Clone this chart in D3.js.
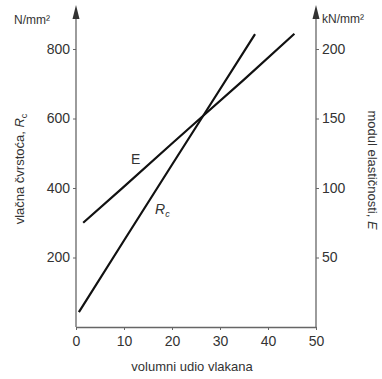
<!DOCTYPE html>
<html>
<head>
<meta charset="utf-8">
<script src="https://cdn.jsdelivr.net/npm/d3@7"></script>
<style>
  body { margin: 0; background: #fff; }
  svg text { font-family: "Liberation Sans", Arial, sans-serif; fill: #333; }
</style>
</head>
<body>
<div id="chart"></div>
<script>
// volume fraction of fibres (%) vs. tensile strength R_c (N/mm²) and modulus E (kN/mm²)
const xTicks = [0, 10, 20, 30, 40, 50];
const leftTicks = [200, 400, 600, 800];
const rightTicks = [50, 100, 150, 200];

const eX = [1.5, 10, 20, 26.5, 35, 45.5];
const eVals = [75, 101, 132, 152, 178, 211];

const rX = [0.6, 10, 20, 26.5, 37.3];
const rVals = [43, 249, 467, 608, 843];

const width = 382, height = 379;

const x = d3.scaleLinear().domain([0, 50]).range([76, 316]);
const yL = d3.scaleLinear().domain([0, 800]).range([327, 49]);
const yR = d3.scaleLinear().domain([0, 200]).range([327, 49]);

const svg = d3.select('#chart').append('svg')
  .attr('width', width)
  .attr('height', height);

// x axis
const xAxis = svg.append('g')
  .attr('transform', 'translate(0,327)')
  .call(d3.axisBottom(x).tickValues(xTicks).tickSize(3).tickSizeOuter(0));
xAxis.select('.domain').attr('stroke', '#666').attr('stroke-width', 1.3);
xAxis.selectAll('.tick line').attr('stroke', '#666');
xAxis.selectAll('text').attr('font-size', 14).attr('dy', '0.95em').attr('fill', '#333');

// left axis
const lAxis = svg.append('g')
  .attr('transform', 'translate(76,0)')
  .call(d3.axisLeft(yL).tickValues(leftTicks).tickSize(3).tickSizeOuter(0));
lAxis.select('.domain').remove();
lAxis.selectAll('.tick line').attr('stroke', '#666');
lAxis.selectAll('text').attr('font-size', 14).attr('fill', '#333');

// right axis
const rAxis = svg.append('g')
  .attr('transform', 'translate(316,0)')
  .call(d3.axisRight(yR).tickValues(rightTicks).tickSize(3).tickSizeOuter(0));
rAxis.select('.domain').remove();
rAxis.selectAll('.tick line').attr('stroke', '#666');
rAxis.selectAll('text').attr('font-size', 14).attr('fill', '#333');

// vertical axis lines with arrow heads
[76, 316].forEach(ax => {
  svg.append('line')
    .attr('x1', ax).attr('x2', ax).attr('y1', 327).attr('y2', 16)
    .attr('stroke', '#666').attr('stroke-width', 1.3);
  svg.append('path')
    .attr('d', `M${ax},5 L${ax + 3.5},19 L${ax - 3.5},19 Z`)
    .attr('fill', '#333');
});

// unit labels
svg.append('text').attr('x', 14).attr('y', 24).attr('font-size', 12)
  .text('N/mm²');
svg.append('text').attr('x', 322).attr('y', 23).attr('font-size', 12)
  .text('kN/mm²');

// axis titles
svg.append('text')
  .attr('transform', 'translate(24,169) rotate(-90)')
  .attr('text-anchor', 'middle').attr('font-size', 13)
  .html('vlačna čvrstoća, <tspan font-style="italic">R</tspan><tspan font-size="9" dy="3">c</tspan>');
svg.append('text')
  .attr('transform', 'translate(368,170) rotate(90)')
  .attr('text-anchor', 'middle').attr('font-size', 13)
  .html('modul elastičnosti, <tspan font-style="italic">E</tspan>');
svg.append('text')
  .attr('x', 192).attr('y', 371)
  .attr('text-anchor', 'middle').attr('font-size', 13)
  .text('volumni udio vlakana');

// curves
const lineE = d3.line().x(d => x(d[0])).y(d => yR(d[1]));
const lineR = d3.line().x(d => x(d[0])).y(d => yL(d[1]));

svg.append('path')
  .datum(eX.map((v, i) => [v, eVals[i]]))
  .attr('d', lineE)
  .attr('fill', 'none').attr('stroke', '#111').attr('stroke-width', 2.2);

svg.append('path')
  .datum(rX.map((v, i) => [v, rVals[i]]))
  .attr('d', lineR)
  .attr('fill', 'none').attr('stroke', '#111').attr('stroke-width', 2.2);

// curve labels
svg.append('text').attr('x', 131).attr('y', 164).attr('font-size', 14)
  .text('E');
svg.append('text').attr('x', 155).attr('y', 214).attr('font-size', 14)
  .attr('font-style', 'italic')
  .html('R<tspan font-size="9" dy="3">c</tspan>');
</script>
</body>
</html>
